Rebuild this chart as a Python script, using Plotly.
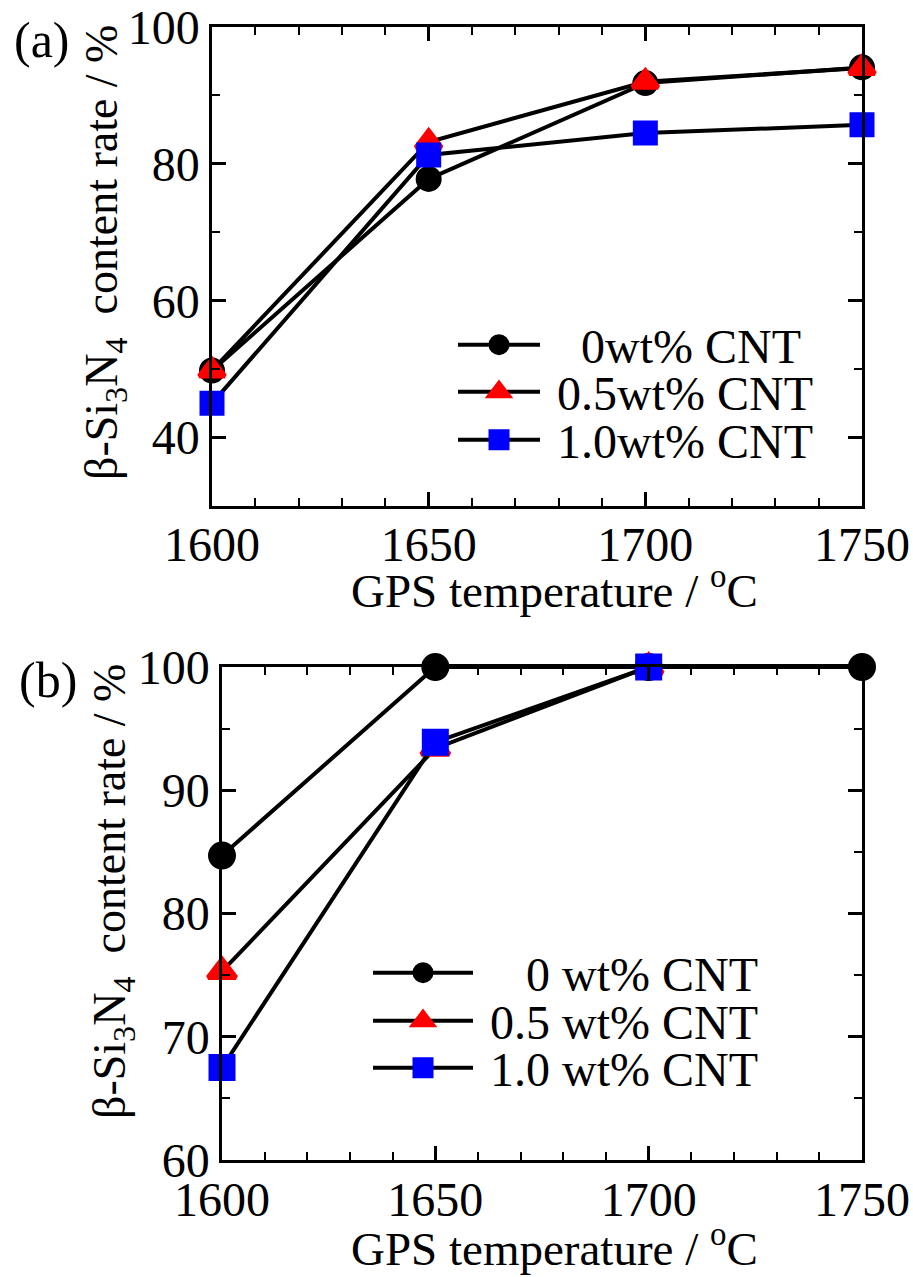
import plotly.graph_objects as go

W, H = 913, 1277

temps_a = [1600, 1650, 1700, 1750]
a_0 = [49.8, 77.8, 91.8, 94.1]
a_05 = [49.8, 83.2, 92.0, 94.0]
a_10 = [45.0, 81.3, 84.5, 85.7]

temps_b = [1600, 1650, 1700, 1750]
b_0 = [84.7, 100.0, 100.0, 100.0]
temps_b2 = [1600, 1650, 1700]
b_05 = [75.3, 93.4, 100.0]
b_10 = [67.5, 93.9, 100.0]

NB = "\u00a0"
names_a = [NB * 3 + "0wt% CNT", NB + "0.5wt% CNT", NB + "1.0wt% CNT"]
names_b = [NB * 4 + "0 wt% CNT", NB + "0.5 wt% CNT", NB + "1.0 wt% CNT"]

FONT = "Liberation Serif, Times New Roman, serif"
MLW = 5
styles = [
    dict(symbol="circle", color="black", size=26),
    dict(symbol="triangle-up", color="red", size=27),
    dict(symbol="square", color="blue", size=25),
]

fig = go.Figure()

def px_x(x):
    return x / W

def px_y(y):
    return 1 - y / H

series_a = [(temps_a, a_0), (temps_a, a_05), (temps_a, a_10)]
series_b = [(temps_b, b_0), (temps_b2, b_05), (temps_b2, b_10)]

legend_rows_a = [345, 392, 440]
legend_rows_b = [973, 1021, 1068]

for i, ((xs, ys), st) in enumerate(zip(series_a, styles)):
    fig.add_trace(go.Scatter(
        x=xs, y=ys, mode="lines+markers", name=names_a[i],
        line=dict(color="black", width=4),
        marker=dict(symbol=st["symbol"], color=st["color"], size=st["size"] - MLW,
                    line=dict(width=MLW, color=st["color"])),
        xaxis="x", yaxis="y", legend="legend" if i == 0 else f"legend{i+1}",
        cliponaxis=False,
    ))
for i, ((xs, ys), st) in enumerate(zip(series_b, styles)):
    fig.add_trace(go.Scatter(
        x=xs, y=ys, mode="lines+markers", name=names_b[i],
        line=dict(color="black", width=4),
        marker=dict(symbol=st["symbol"], color=st["color"], size=st["size"] + 2 - MLW,
                    line=dict(width=MLW, color=st["color"])),
        xaxis="x2", yaxis="y2", legend=f"legend{i+4}",
        cliponaxis=False,
    ))

tickfont = dict(family=FONT, size=48, color="black")
common = dict(
    showline=True, linecolor="black", linewidth=2.5, mirror="allticks",
    ticks="inside", ticklen=14, tickwidth=2.5, tickcolor="black",
    showgrid=False, zeroline=False, tickfont=tickfont, automargin=False,
)
minor_style = dict(ticks="inside", ticklen=8, tickwidth=2, tickcolor="black")

layout = dict(
    width=W, height=H, margin=dict(l=0, r=0, t=0, b=0, autoexpand=False),
    paper_bgcolor="white", plot_bgcolor="white",
    showlegend=True,
    xaxis=dict(domain=[px_x(212), px_x(862)], range=[1600, 1750], dtick=50, anchor="y",
               minor=dict(dtick=10, **minor_style), ticklabelstandoff=-5, **common),
    yaxis=dict(domain=[px_y(506), px_y(27)], range=[30, 100], dtick=20, tick0=0, anchor="x",
               minor=dict(dtick=10, **minor_style), **common),
    xaxis2=dict(domain=[px_x(222), px_x(862)], range=[1600, 1750], dtick=50, anchor="y2",
                minor=dict(dtick=10, **minor_style), ticklabelstandoff=-4, **common),
    yaxis2=dict(domain=[px_y(1160), px_y(667)], range=[60, 100], dtick=10, anchor="x2",
                minor=dict(dtick=5, **minor_style), **common),
)

legfont = dict(family=FONT, size=48, color="black")
for i in range(3):
    key = "legend" if i == 0 else f"legend{i+1}"
    layout[key] = dict(x=px_x(453), y=px_y(legend_rows_a[i]), xanchor="left", yanchor="middle",
                       bgcolor="rgba(0,0,0,0)", borderwidth=0, font=legfont, itemwidth=82)
for i in range(3):
    key = f"legend{i+4}"
    layout[key] = dict(x=px_x(368), y=px_y(legend_rows_b[i]), xanchor="left", yanchor="middle",
                       bgcolor="rgba(0,0,0,0)", borderwidth=0, font=legfont, itemwidth=100)

ytitle = "β-Si<sub>3</sub>N<sub>4</sub>  content rate / %"
xtitle = "GPS temperature / <sup>o</sup>C"

def ann(text, x, y, size=46, angle=0):
    return dict(text=text, x=px_x(x), y=px_y(y), xref="paper", yref="paper", showarrow=False,
                xanchor="center", yanchor="middle", textangle=angle,
                font=dict(family=FONT, size=size, color="black"))

layout["annotations"] = [
    ann(xtitle, 554, 587, size=47),
    ann(xtitle, 554, 1245, size=47),
    ann(ytitle, 105, 253, angle=-90),
    ann(ytitle, 113, 892, angle=-90),
    ann("(a)", 42, 40, size=50),
    ann("(b)", 48, 680, size=50),
]

fig.update_layout(**layout)
fig.write_html("out.html")
